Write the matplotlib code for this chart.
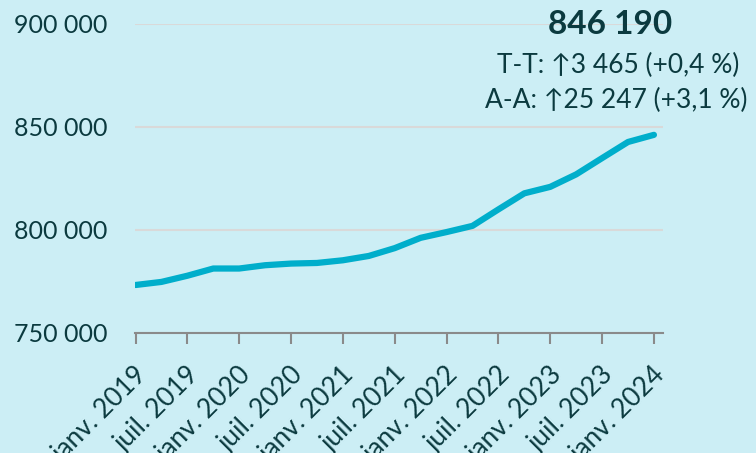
import matplotlib.pyplot as plt
import matplotlib.transforms as mtransforms
import numpy as np

# données trimestrielles, janv. 2019 -> janv. 2024
valeurs = [773300, 774800, 777800, 781300, 781300, 782900, 783700, 784000,
           785300, 787400, 791200, 796200, 799000, 802000, 810000, 817800,
           820943, 827000, 834900, 842725, 846190]
etiquettes = ["janv. 2019", "juil. 2019", "janv. 2020", "juil. 2020",
              "janv. 2021", "juil. 2021", "janv. 2022", "juil. 2022",
              "janv. 2023", "juil. 2023", "janv. 2024"]
y_ticks = [750000, 800000, 850000, 900000]
dernier = "846 190"
tt = "T-T: ↑3 465 (+0,4 %)"
aa = "A-A: ↑25 247 (+3,1 %)"

fond = "#cceef5"
texte = "#0b3a3f"
plt.rcParams['font.family'] = ['Lato', 'DejaVu Sans']

fig = plt.figure(figsize=(7.56, 4.53), dpi=100, facecolor=fond)
ax = fig.add_axes([135/756, 1-333/453, (663-135)/756, (333-24)/453])
ax.set_facecolor(fond)

x = np.arange(len(valeurs))
ax.plot(x, valeurs, color="#00aecb", lw=4.5, solid_capstyle="round", zorder=3)

ax.set_xlim(-0.02, 20.35)
ax.set_ylim(750000, 900000)
ax.set_yticks(y_ticks)
ax.set_yticklabels([f"{v:,}".replace(",", " ") for v in y_ticks], fontsize=18,
                   color=texte)
pos = np.arange(0, 21, 2)
ax.set_xticks(pos)
ax.set_xticklabels([])
# étiquettes inclinées, légèrement décalées vers la droite
decal = ax.get_xaxis_transform() + mtransforms.ScaledTranslation(
    8/100, -38/100, fig.dpi_scale_trans)
for p, lab in zip(pos, etiquettes):
    ax.text(p, 0, lab, transform=decal, rotation=45, ha="right", va="center",
            rotation_mode="anchor", fontsize=19, color=texte, clip_on=False)
ax.tick_params(axis="y", length=0, pad=20)
ax.tick_params(axis="x", length=8, width=1.5, color="#8a8a8a")
ax.grid(axis="y", color="#d9d9d9", lw=1.5)
ax.set_axisbelow(True)
for s in ["left", "right", "top"]:
    ax.spines[s].set_visible(False)
ax.spines["bottom"].set_color("#8a8a8a")
ax.spines["bottom"].set_linewidth(1.5)

fig.text(610/756, 1-25/453, dernier, ha="center", va="center", fontsize=24,
         fontweight="bold", color=texte)
fig.text(618/756, 1-65/453, tt, ha="center", va="center", fontsize=19, color=texte)
fig.text(616/756, 1-100/453, aa, ha="center", va="center", fontsize=19, color=texte)

fig.savefig("out.png", dpi=100, facecolor=fond)
